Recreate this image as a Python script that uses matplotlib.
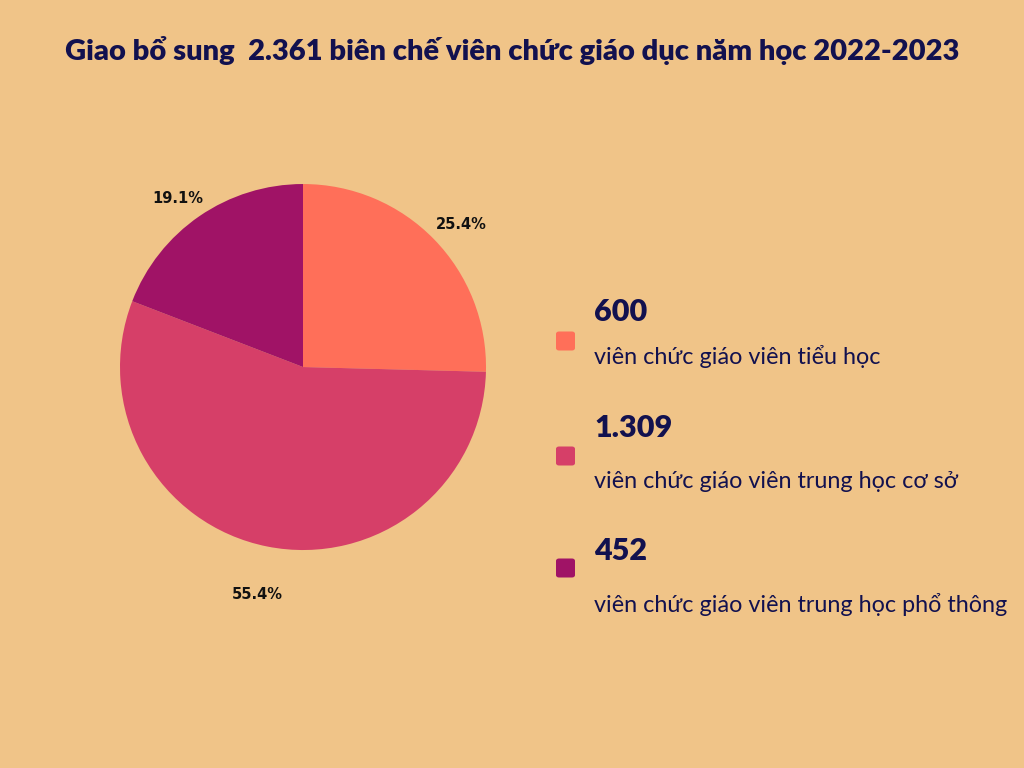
import matplotlib.pyplot as plt
from matplotlib.patches import FancyBboxPatch

# Dữ liệu
title = "Giao bổ sung  2.361 biên chế viên chức giáo dục năm học 2022-2023"
values = [600, 1309, 452]
numbers = ["600", "1.309", "452"]
descriptions = [
    "viên chức giáo viên tiểu học",
    "viên chức giáo viên trung học cơ sở",
    "viên chức giáo viên trung học phổ thông",
]
colors = ["#FF6F59", "#D63F68", "#A01366"]

BG = "#F0C488"
NAVY = "#12114F"
FAM = ["Lato", "DejaVu Sans"]

fig = plt.figure(figsize=(10.24, 7.68), dpi=100, facecolor=BG)

fig.text(0.5, 0.934, title, ha="center", va="center", fontsize=21,
         fontweight="heavy", color=NAVY, family=FAM)

# Pie
ax = fig.add_axes([0.0457, 0.1885, 0.5004, 0.6672])
ax.set_facecolor(BG)
wedges, texts, autotexts = ax.pie(
    values, colors=colors, startangle=90, counterclock=False,
    autopct="%1.1f%%", pctdistance=1.14, radius=1.0,
    textprops=dict(fontsize=10.5, fontweight="bold", color="#111111"))
x, y = autotexts[1].get_position()
autotexts[1].set_position((x * 1.11, y * 1.11))
for t in (autotexts[0], autotexts[2]):
    x, y = t.get_position()
    t.set_position((x * 1.06, y * 0.98))
ax.set_xlim(-1.4, 1.4)
ax.set_ylim(-1.4, 1.4)
ax.set_aspect("equal")
ax.axis("off")

# Chú thích
W, H = 1024, 768
num_y = [312, 428, 551]
desc_y = [356, 481, 604]
box_y = [341, 456, 568]
for i in range(3):
    sq = FancyBboxPatch((556 / W, (H - box_y[i] - 9.5) / H), 19 / W, 19 / H,
                        boxstyle="round,pad=0,rounding_size=0.003",
                        transform=fig.transFigure, facecolor=colors[i],
                        edgecolor="none")
    fig.patches.append(sq)
    fig.text(594 / W, (H - num_y[i]) / H, numbers[i], ha="left", va="center",
             fontsize=22, fontweight="heavy", color=NAVY, family=FAM)
    fig.text(594 / W, (H - desc_y[i]) / H, descriptions[i], ha="left", va="center",
             fontsize=16.8, color=NAVY, family=FAM)

fig.savefig("out.png", dpi=100, facecolor=BG)
